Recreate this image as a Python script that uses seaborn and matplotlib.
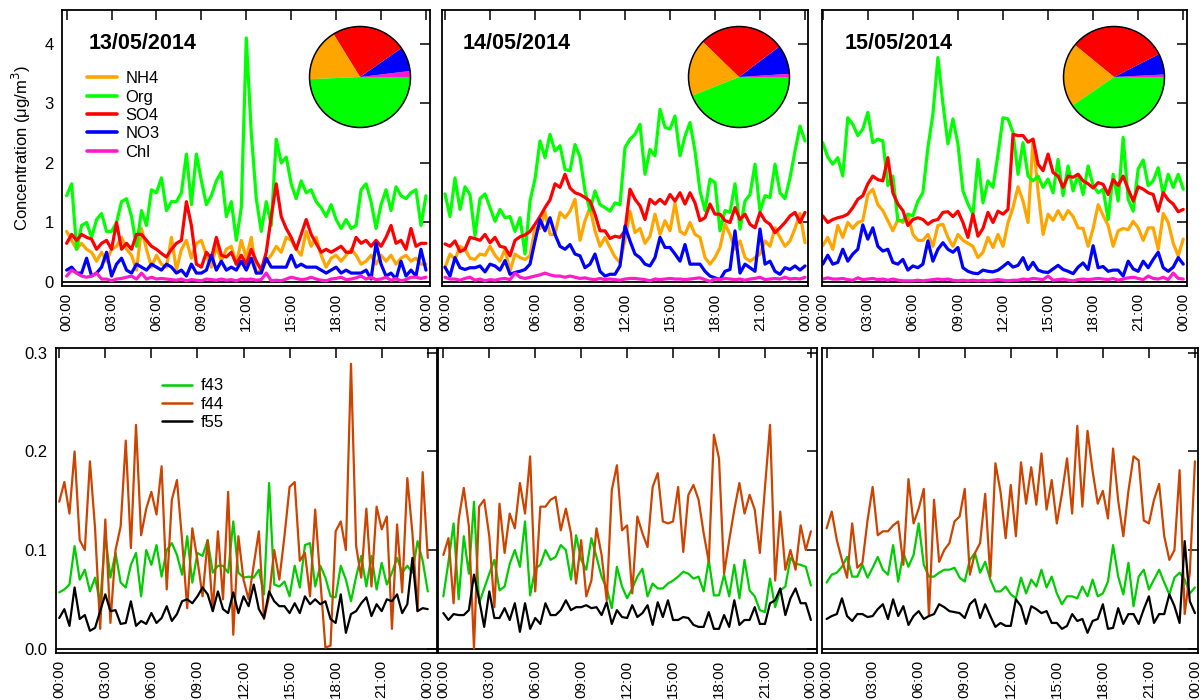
import numpy as np
import pandas as pd
import matplotlib
matplotlib.use("Agg")
import matplotlib.pyplot as plt
from matplotlib.lines import Line2D
import seaborn as sns

# 20-min averages, 00:00 -> 24:00 (73 points per day)
hours = np.arange(73) / 3.0
dates = ["13/05/2014", "14/05/2014", "15/05/2014"]
species = ["NH4", "Org", "SO4", "NO3", "Chl"]
frags = ["f43", "f44", "f55"]
time_ticks = [0, 3, 6, 9, 12, 15, 18, 21, 24]
time_labels = ["00:00", "03:00", "06:00", "09:00", "12:00", "15:00", "18:00", "21:00", "00:00"]

# ---- 13/05/2014 ----
nh4_d1 = [0.85, 0.7, 0.55, 0.65, 0.55, 0.5, 0.35, 0.5, 0.35, 0.55,
          0.6, 0.75, 0.55, 0.45, 0.2, 0.9, 0.55, 0.25, 0.45, 0.3,
          0.25, 0.75, 0.2, 0.55, 0.7, 0.4, 0.65, 0.7, 0.45, 0.25,
          0.6, 0.35, 0.55, 0.6, 0.3, 0.7, 0.4, 0.75, 0.15, 0.2,
          0.35, 0.45, 0.6, 0.5, 0.75, 0.7, 0.55, 0.45, 0.85, 0.6,
          0.75, 0.45, 0.25, 0.4, 0.45, 0.35, 0.45, 0.55, 0.45, 0.3,
          0.35, 0.45, 0.3, 0.45, 0.35, 0.45, 0.3, 0.4, 0.45, 0.35,
          0.4, 0.3, 0.3]
org_d1 = [1.45, 1.65, 0.55, 0.95, 1.0, 0.75, 1.05, 1.15, 0.85, 0.85,
          1.0, 1.35, 1.4, 1.1, 0.6, 1.2, 0.95, 1.55, 1.5, 1.75,
          1.2, 1.35, 1.35, 1.5, 2.15, 1.3, 2.15, 1.7, 1.3, 1.45,
          1.7, 1.85, 1.1, 1.35, 0.7, 1.25, 4.1, 2.5, 1.4, 0.85,
          1.35, 0.95, 2.4, 2.0, 2.1, 1.65, 1.4, 1.7, 1.5, 1.55,
          1.35, 1.25, 1.1, 1.3, 1.05, 0.9, 1.05, 0.9, 0.95, 1.55,
          1.65, 1.35, 0.9, 1.3, 1.55, 1.2, 1.6, 1.45, 1.4, 1.5,
          1.55, 0.95, 1.45]
so4_d1 = [0.65, 0.8, 0.7, 0.8, 0.75, 0.72, 0.55, 0.65, 0.7, 0.55,
          1.0, 0.55, 0.65, 0.55, 0.8, 0.8, 0.7, 0.6, 0.55, 0.48,
          0.42, 0.55, 0.65, 0.7, 1.35, 0.95, 0.3, 0.25, 0.5, 0.4,
          0.75, 0.45, 0.42, 0.5, 0.3, 0.45, 0.3, 0.55, 0.35, 0.2,
          0.5, 1.1, 1.65, 1.1, 0.9, 0.75, 0.55, 0.8, 1.05, 0.8,
          0.65, 0.5, 0.55, 0.5, 0.55, 0.6, 0.5, 0.5, 0.75, 0.65,
          0.7, 0.6, 0.7, 0.6, 0.75, 0.95, 0.65, 0.7, 0.55, 0.9,
          0.6, 0.65, 0.65]
no3_d1 = [0.2, 0.25, 0.15, 0.15, 0.4, 0.1, 0.15, 0.25, 0.5, 0.1,
          0.3, 0.4, 0.2, 0.15, 0.3, 0.25, 0.2, 0.3, 0.25, 0.2,
          0.3, 0.25, 0.15, 0.2, 0.1, 0.3, 0.15, 0.15, 0.2, 0.45,
          0.2, 0.35, 0.2, 0.25, 0.2, 0.35, 0.2, 0.4, 0.15, 0.15,
          0.4, 0.25, 0.25, 0.25, 0.25, 0.45, 0.25, 0.3, 0.25, 0.25,
          0.25, 0.2, 0.15, 0.2, 0.25, 0.15, 0.2, 0.15, 0.15, 0.15,
          0.2, 0.05, 0.65, 0.3, 0.1, 0.15, 0.05, 0.35, 0.1, 0.2,
          0.1, 0.55, 0.2]
chl_d1 = [0.1, 0.2, 0.15, 0.1, 0.08, 0.1, 0.15, 0.05, 0.05, 0.02,
          0.05, 0.06, 0.08, 0.1, 0.05, 0.15, 0.05, 0.08, 0.05, 0.06,
          0.05, 0.04, 0.03, 0.05, 0.02, 0.04, 0.03, 0.02, 0.05, 0.04,
          0.03, 0.05, 0.03, 0.04, 0.02, 0.05, 0.04, 0.05, 0.03, 0.04,
          0.15, 0.02, 0.03, 0.02, 0.05, 0.08, 0.06, 0.04, 0.05, 0.08,
          0.05, 0.03, 0.02, 0.05, 0.06, 0.08, 0.04, 0.05, 0.07, 0.1,
          0.05, 0.08, 0.04, 0.05, 0.08, 0.03, 0.06, 0.02, 0.04, 0.08,
          0.08, 0.06, 0.08]
f43_d1 = [0.057, 0.06, 0.065, 0.104, 0.07, 0.08, 0.058, 0.072, 0.046, 0.115,
          0.072, 0.097, 0.067, 0.062, 0.085, 0.097, 0.053, 0.1, 0.085, 0.105,
          0.073, 0.1, 0.107, 0.095, 0.075, 0.114, 0.067, 0.097, 0.094, 0.11,
          0.077, 0.084, 0.084, 0.077, 0.129, 0.077, 0.072, 0.073, 0.072, 0.08,
          0.055, 0.168, 0.065, 0.063, 0.068, 0.053, 0.084, 0.062, 0.105, 0.107,
          0.063, 0.084, 0.072, 0.053, 0.052, 0.084, 0.07, 0.048, 0.073, 0.094,
          0.063, 0.094, 0.06, 0.087, 0.065, 0.077, 0.092, 0.077, 0.084, 0.077,
          0.109, 0.089, 0.058]
f44_d1 = [0.149, 0.169, 0.137, 0.2, 0.11, 0.1, 0.19, 0.122, 0.02, 0.131,
          0.026, 0.1, 0.124, 0.211, 0.102, 0.227, 0.115, 0.142, 0.159, 0.136,
          0.185, 0.06, 0.151, 0.171, 0.11, 0.041, 0.122, 0.09, 0.053, 0.11,
          0.038, 0.119, 0.05, 0.159, 0.014, 0.114, 0.07, 0.05, 0.085, 0.119,
          0.03, 0.053, 0.1, 0.07, 0.114, 0.164, 0.169, 0.089, 0.097, 0.053,
          0.141, 0.07, 0.001, 0.003, 0.119, 0.129, 0.1, 0.289, 0.104, 0.072,
          0.142, 0.063, 0.144, 0.121, 0.134, 0.02, 0.126, 0.057, 0.173, 0.117,
          0.038, 0.179, 0.092]
f55_d1 = [0.031, 0.04, 0.023, 0.062, 0.03, 0.034, 0.018, 0.021, 0.038, 0.055,
          0.038, 0.039, 0.025, 0.026, 0.048, 0.023, 0.028, 0.025, 0.036, 0.026,
          0.031, 0.043, 0.028, 0.035, 0.048, 0.05, 0.046, 0.053, 0.062, 0.055,
          0.038, 0.058, 0.04, 0.036, 0.057, 0.036, 0.053, 0.043, 0.065, 0.04,
          0.031, 0.058, 0.048, 0.043, 0.043, 0.036, 0.046, 0.036, 0.053, 0.045,
          0.05, 0.045, 0.048, 0.03, 0.026, 0.055, 0.016, 0.035, 0.038, 0.046,
          0.052, 0.033, 0.045, 0.038, 0.05, 0.048, 0.055, 0.036, 0.045, 0.092,
          0.038, 0.041, 0.04]

# ---- 14/05/2014 ----
nh4_d2 = [0.24, 0.47, 0.38, 0.6, 0.55, 0.4, 0.38, 0.47, 0.45, 0.6,
          0.45, 0.35, 0.55, 0.18, 0.47, 0.41, 0.38, 0.44, 0.91, 0.9,
          1.17, 0.8, 0.8, 1.17, 1.08, 1.19, 1.39, 0.7, 1.03, 1.25,
          0.86, 0.6, 0.75, 0.58, 0.42, 0.33, 0.7, 1.19, 0.83, 0.9,
          0.65, 0.77, 1.14, 0.8, 1.03, 0.86, 1.33, 0.85, 0.8, 1.0,
          0.8, 0.75, 0.41, 0.3, 0.41, 0.58, 0.97, 0.8, 0.55, 0.69,
          0.41, 0.35, 0.41, 0.47, 0.69, 0.6, 0.91, 0.75, 0.6, 0.69,
          0.9, 1.15, 0.66]
org_d2 = [1.48, 1.1, 1.75, 1.22, 1.6, 1.47, 0.78, 1.4, 1.48, 1.25,
          1.02, 1.22, 1.08, 1.1, 0.85, 1.08, 0.47, 1.36, 1.73, 2.37,
          2.09, 2.48, 2.2, 2.29, 1.89, 1.87, 2.31, 2.1, 1.53, 1.2,
          1.53, 1.3, 1.25, 1.19, 1.33, 1.3, 2.26, 2.4, 2.48, 2.65,
          1.81, 2.23, 2.12, 2.9, 2.6, 2.57, 2.79, 2.12, 2.45, 2.68,
          2.2, 1.53, 1.2, 1.73, 1.67, 0.86, 1.2, 1.17, 1.65, 0.89,
          1.36, 1.47, 1.98, 1.19, 1.45, 1.42, 1.98, 1.5, 1.4, 1.75,
          2.2, 2.62, 2.37]
so4_d2 = [0.64, 0.6, 0.69, 0.51, 0.55, 0.75, 0.73, 0.7, 0.8, 0.66,
          0.75, 0.6, 0.58, 0.44, 0.7, 0.76, 0.79, 0.85, 0.97, 1.1,
          1.25, 1.38, 1.65, 1.59, 1.81, 1.58, 1.5, 1.47, 1.42, 1.36,
          1.14, 0.86, 0.86, 0.73, 0.77, 0.75, 0.86, 1.56, 1.39, 1.28,
          1.05, 1.39, 1.31, 1.39, 1.31, 1.47, 1.36, 1.5, 1.31, 1.5,
          1.33, 1.03, 1.08, 1.31, 1.14, 1.14, 1.03, 1.0, 1.25, 1.05,
          1.14, 0.97, 0.91, 1.17, 1.03, 0.97, 0.83, 0.91, 1.0, 1.11,
          1.17, 1.0, 1.17]
no3_d2 = [0.25, 0.1, 0.41, 0.24, 0.21, 0.24, 0.24, 0.27, 0.17, 0.3,
          0.27, 0.2, 0.36, 0.13, 0.16, 0.18, 0.21, 0.3, 0.69, 1.05,
          0.86, 1.08, 0.8, 0.6, 0.55, 0.63, 0.47, 0.44, 0.24, 0.3,
          0.47, 0.18, 0.1, 0.13, 0.13, 0.27, 0.94, 0.69, 0.47, 0.41,
          0.3, 0.27, 0.41, 0.75, 0.58, 0.58, 0.47, 0.35, 0.63, 0.3,
          0.3, 0.3, 0.18, 0.1, 0.07, 0.04, 0.18, 0.21, 0.86, 0.15,
          0.3, 0.24, 0.18, 0.89, 0.3, 0.35, 0.18, 0.13, 0.24, 0.21,
          0.27, 0.2, 0.27]
chl_d2 = [0.08, 0.05, 0.05, 0.03, 0.06, 0.08, 0.03, 0.05, 0.02, 0.04,
          0.03, 0.05, 0.06, 0.04, 0.15, 0.08, 0.06, 0.08, 0.1, 0.12,
          0.15, 0.12, 0.1, 0.1, 0.08, 0.1, 0.08, 0.06, 0.07, 0.05,
          0.04, 0.06, 0.04, 0.05, 0.04, 0.03, 0.05, 0.06, 0.06, 0.05,
          0.04, 0.02, 0.05, 0.04, 0.05, 0.06, 0.05, 0.05, 0.04, 0.05,
          0.06, 0.07, 0.04, 0.01, 0.05, 0.04, 0.06, 0.05, 0.04, 0.05,
          0.03, 0.05, 0.06, 0.08, 0.04, 0.05, 0.06, 0.05, 0.08, 0.05,
          0.06, 0.05, 0.08]
f43_d2 = [0.053, 0.088, 0.127, 0.05, 0.114, 0.076, 0.149, 0.046, 0.061, 0.076,
          0.09, 0.059, 0.063, 0.086, 0.1, 0.083, 0.129, 0.054, 0.081, 0.085,
          0.1, 0.09, 0.093, 0.105, 0.1, 0.07, 0.115, 0.09, 0.08, 0.112,
          0.093, 0.073, 0.061, 0.041, 0.083, 0.063, 0.051, 0.061, 0.073, 0.081,
          0.053, 0.066, 0.061, 0.061, 0.066, 0.069, 0.073, 0.078, 0.076, 0.071,
          0.073, 0.058, 0.09, 0.054, 0.054, 0.075, 0.053, 0.085, 0.051, 0.09,
          0.059, 0.053, 0.039, 0.037, 0.071, 0.042, 0.059, 0.063, 0.092, 0.086,
          0.085, 0.083, 0.064]
f44_d2 = [0.095, 0.112, 0.046, 0.131, 0.163, 0.124, 0.0, 0.144, 0.151, 0.114,
          0.042, 0.147, 0.097, 0.137, 0.122, 0.168, 0.137, 0.195, 0.058, 0.144,
          0.144, 0.151, 0.154, 0.12, 0.142, 0.117, 0.066, 0.11, 0.053, 0.069,
          0.122, 0.095, 0.049, 0.161, 0.186, 0.12, 0.125, 0.056, 0.134, 0.117,
          0.103, 0.164, 0.178, 0.129, 0.127, 0.129, 0.164, 0.098, 0.156, 0.166,
          0.151, 0.117, 0.088, 0.217, 0.193, 0.076, 0.11, 0.141, 0.168, 0.137,
          0.156, 0.141, 0.097, 0.163, 0.227, 0.069, 0.139, 0.08, 0.1, 0.08,
          0.125, 0.1, 0.119]
f55_d2 = [0.036, 0.029, 0.035, 0.034, 0.034, 0.039, 0.075, 0.05, 0.022, 0.058,
          0.031, 0.031, 0.041, 0.029, 0.046, 0.017, 0.046, 0.02, 0.031, 0.025,
          0.046, 0.034, 0.034, 0.039, 0.049, 0.039, 0.042, 0.042, 0.044, 0.041,
          0.042, 0.034, 0.047, 0.025, 0.039, 0.032, 0.031, 0.044, 0.032, 0.036,
          0.044, 0.024, 0.047, 0.032, 0.049, 0.029, 0.029, 0.032, 0.031, 0.024,
          0.022, 0.022, 0.037, 0.02, 0.02, 0.034, 0.022, 0.049, 0.024, 0.029,
          0.029, 0.042, 0.025, 0.025, 0.046, 0.049, 0.061, 0.034, 0.051, 0.061,
          0.046, 0.046, 0.029]

# ---- 15/05/2014 ----
nh4_d3 = [0.61, 0.75, 0.55, 0.95, 0.75, 1.0, 0.9, 1.0, 1.03, 1.47,
          1.56, 1.3, 1.2, 1.03, 0.86, 1.05, 1.0, 1.14, 0.8, 0.7,
          0.7, 0.8, 0.6, 0.95, 0.97, 0.75, 0.6, 0.8, 0.7, 0.65,
          0.6, 0.41, 0.5, 0.75, 0.58, 0.8, 0.6, 1.0, 1.25, 1.6,
          1.36, 1.0, 2.4, 1.53, 0.8, 1.14, 1.03, 1.2, 1.05, 1.2,
          1.1, 0.91, 0.9, 0.6, 0.9, 1.3, 1.12, 0.95, 0.6, 0.86,
          0.9, 0.88, 1.02, 0.91, 0.7, 0.91, 0.91, 0.55, 1.15, 1.0,
          0.65, 0.44, 0.72]
org_d3 = [2.34, 2.1, 1.98, 2.09, 1.78, 2.76, 2.65, 2.46, 2.57, 2.85,
          2.34, 2.4, 2.37, 1.62, 1.78, 1.03, 1.03, 1.14, 1.11, 1.36,
          1.5, 2.26, 2.82, 3.77, 3.0, 2.32, 2.74, 2.32, 1.53, 1.31,
          1.14, 2.06, 1.33, 1.7, 1.59, 2.15, 2.76, 2.74, 2.51, 1.81,
          2.34, 1.78, 1.7, 1.78, 1.59, 1.73, 1.5, 2.06, 1.45, 1.95,
          1.53, 1.81, 1.47, 1.95, 1.62, 1.5, 1.56, 1.05, 1.81, 1.36,
          2.43, 1.39, 1.19, 1.9, 2.05, 1.62, 1.7, 1.92, 1.47, 1.81,
          1.59, 1.81, 1.56]
so4_d3 = [1.11, 1.0, 1.05, 1.08, 1.1, 1.14, 1.25, 1.39, 1.45, 1.65,
          1.78, 1.72, 1.7, 2.09, 1.5, 1.31, 1.2, 0.95, 1.05, 1.08,
          1.05, 0.97, 1.03, 1.05, 1.17, 1.18, 1.1, 1.19, 1.0, 0.75,
          1.14, 0.77, 0.9, 1.17, 1.0, 1.19, 1.14, 1.22, 2.48, 2.46,
          2.46, 2.35, 2.4, 1.98, 1.87, 2.15, 1.84, 1.78, 1.59, 1.78,
          1.76, 1.81, 1.7, 1.65, 1.58, 1.67, 1.64, 1.47, 1.72, 1.62,
          1.78, 1.56, 1.36, 1.6, 1.56, 1.5, 1.47, 1.19, 1.5, 1.38,
          1.31, 1.18, 1.22]
no3_d3 = [0.3, 0.45, 0.3, 0.33, 0.55, 0.35, 0.47, 0.55, 0.96, 0.72,
          0.91, 0.6, 0.52, 0.55, 0.33, 0.3, 0.38, 0.2, 0.27, 0.24,
          0.3, 0.69, 0.35, 0.55, 0.66, 0.55, 0.5, 0.58, 0.24, 0.18,
          0.15, 0.14, 0.2, 0.18, 0.17, 0.2, 0.26, 0.33, 0.25, 0.28,
          0.41, 0.21, 0.33, 0.2, 0.17, 0.16, 0.22, 0.28, 0.21, 0.18,
          0.14, 0.25, 0.32, 0.21, 0.61, 0.24, 0.26, 0.18, 0.2, 0.2,
          0.1, 0.35, 0.22, 0.18, 0.35, 0.24, 0.38, 0.5, 0.24, 0.18,
          0.25, 0.41, 0.3]
chl_d3 = [0.05, 0.07, 0.05, 0.05, 0.06, 0.04, 0.03, 0.07, 0.04, 0.05,
          0.06, 0.04, 0.05, 0.03, 0.05, 0.03, 0.02, 0.02, 0.02, 0.03,
          0.02, 0.03, 0.04, 0.05, 0.04, 0.05, 0.03, 0.02, 0.03, 0.02,
          0.03, 0.02, 0.03, 0.02, 0.03, 0.04, 0.03, 0.02, 0.03, 0.03,
          0.05, 0.04, 0.06, 0.05, 0.04, 0.1, 0.03, 0.04, 0.05, 0.03,
          0.02, 0.04, 0.05, 0.04, 0.05, 0.06, 0.05, 0.04, 0.06, 0.03,
          0.05, 0.07, 0.08, 0.06, 0.04, 0.1, 0.06, 0.05, 0.08, 0.04,
          0.15, 0.06, 0.05]
f43_d3 = [0.067, 0.075, 0.077, 0.083, 0.093, 0.073, 0.073, 0.085, 0.072, 0.082,
          0.093, 0.08, 0.075, 0.105, 0.068, 0.097, 0.083, 0.095, 0.127, 0.085,
          0.073, 0.073, 0.077, 0.08, 0.08, 0.082, 0.072, 0.068, 0.09, 0.097,
          0.077, 0.088, 0.07, 0.058, 0.058, 0.063, 0.055, 0.051, 0.072, 0.056,
          0.07, 0.063, 0.08, 0.062, 0.073, 0.056, 0.045, 0.053, 0.053, 0.051,
          0.063, 0.053, 0.07, 0.053, 0.056, 0.068, 0.105, 0.073, 0.055, 0.087,
          0.043, 0.073, 0.08, 0.06, 0.07, 0.08, 0.067, 0.055, 0.072, 0.077,
          0.07, 0.056, 0.062]
f44_d3 = [0.122, 0.139, 0.11, 0.09, 0.072, 0.127, 0.082, 0.087, 0.13, 0.164,
          0.115, 0.119, 0.119, 0.125, 0.129, 0.085, 0.172, 0.127, 0.142, 0.162,
          0.033, 0.151, 0.088, 0.1, 0.107, 0.129, 0.134, 0.162, 0.075, 0.097,
          0.107, 0.157, 0.073, 0.188, 0.159, 0.112, 0.166, 0.114, 0.189, 0.147,
          0.184, 0.146, 0.198, 0.141, 0.171, 0.127, 0.157, 0.193, 0.137, 0.226,
          0.144, 0.221, 0.18, 0.147, 0.16, 0.132, 0.203, 0.15, 0.114, 0.16,
          0.195, 0.191, 0.13, 0.127, 0.151, 0.167, 0.114, 0.09, 0.1, 0.181,
          0.035, 0.077, 0.19]
f55_d3 = [0.03, 0.033, 0.035, 0.051, 0.033, 0.028, 0.035, 0.035, 0.032, 0.033,
          0.04, 0.045, 0.03, 0.05, 0.033, 0.043, 0.024, 0.033, 0.038, 0.03,
          0.033, 0.035, 0.045, 0.042, 0.038, 0.037, 0.036, 0.031, 0.045, 0.05,
          0.031, 0.045, 0.033, 0.022, 0.026, 0.023, 0.023, 0.05, 0.043, 0.025,
          0.043, 0.04, 0.036, 0.038, 0.026, 0.026, 0.02, 0.023, 0.035, 0.028,
          0.03, 0.016, 0.028, 0.03, 0.045, 0.02, 0.021, 0.041, 0.025, 0.035,
          0.035, 0.025, 0.04, 0.053, 0.026, 0.035, 0.035, 0.055, 0.043, 0.026,
          0.109, 0.048, 0.036]

# daily mean composition (%), order NH4, Org, SO4, NO3, Chl
pie_d1 = [16.9, 49.3, 24.1, 7.8, 1.9]
pie_d2 = [18.3, 43.9, 27.4, 9.3, 1.0]
pie_d3 = [20.5, 40.4, 31.6, 6.7, 0.8]

spec_colors = {"NH4": "#FFA500", "Org": "#00FF00", "SO4": "#FF0000",
               "NO3": "#0000FF", "Chl": "#FF1ACC"}
frag_colors = {"f43": "#00CC00", "f44": "#CC4400", "f55": "#000000"}

days = [
    (dates[0], [nh4_d1, org_d1, so4_d1, no3_d1, chl_d1], [f43_d1, f44_d1, f55_d1], pie_d1),
    (dates[1], [nh4_d2, org_d2, so4_d2, no3_d2, chl_d2], [f43_d2, f44_d2, f55_d2], pie_d2),
    (dates[2], [nh4_d3, org_d3, so4_d3, no3_d3, chl_d3], [f43_d3, f44_d3, f55_d3], pie_d3),
]

sns.set_style("white")
plt.rcParams["font.family"] = ["Liberation Sans", "DejaVu Sans"]
plt.rcParams["axes.linewidth"] = 1.3
for key in ["text.color", "axes.labelcolor", "xtick.color", "ytick.color", "axes.edgecolor"]:
    plt.rcParams[key] = "black"

W, H = 1202, 700
fig = plt.figure(figsize=(W / 100, H / 100), dpi=100)

# axes boxes in pixels: left, right, top, bottom
top_box = [(62, 430, 10, 286), (442, 808, 10, 286), (822, 1187, 10, 286)]
bot_box = [(56, 437, 348, 653), (438, 817, 348, 653), (822, 1198, 348, 653)]
top_xlim = [(-0.31, 24.27), (-0.2, 24.2), (-0.05, 24.25)]
bot_xlim = [(-0.21, 24.6), (-0.35, 24.4), (-0.3, 24.2)]
pie_center = [(360, 77), (739, 77), (1114, 77)]
date_x = [0.071, 0.057, 0.063]
pie_r = 52


def add_ax(box):
    l, r, t, b = box
    return fig.add_axes([l / W, 1 - b / H, (r - l) / W, (b - t) / H])


def style_ax(ax, xlim):
    ax.set_xlim(*xlim)
    ax.set_xticks(time_ticks)
    ax.set_xticklabels(time_labels, rotation=90)
    ax.tick_params(direction="in", top=True, right=True, length=7, width=1.1,
                   colors="black")
    ax.tick_params(axis="x", pad=5, labelsize=11)
    ax.tick_params(axis="y", pad=6, labelsize=12)
    ax.set_xlabel("")
    ax.set_ylabel("")
    for s in ax.spines.values():
        s.set_color("black")
        s.set_linewidth(1.3)


for k, (date, spec_vals, frag_vals, pie_vals) in enumerate(days):
    # ---- mass concentrations ----
    ax = add_ax(top_box[k])
    df = pd.DataFrame({"hour": hours})
    for name, vals in zip(species, spec_vals):
        df[name] = vals
    df = df.melt(id_vars="hour", var_name="species", value_name="conc")
    sns.lineplot(data=df, x="hour", y="conc", hue="species", hue_order=species,
                 palette=spec_colors, linewidth=2.3, estimator=None,
                 legend=False, ax=ax)
    ax.axhline(0, color="black", lw=1.3, zorder=1)
    style_ax(ax, top_xlim[k])
    ax.set_ylim(-0.067, 4.57)
    ax.set_yticks([0, 1, 2, 3, 4])
    if k == 0:
        ax.set_ylabel("Concentration (μg/m$^{3}$)", fontsize=12, labelpad=8)
        handles = [Line2D([], [], color=spec_colors[s], lw=2.6) for s in species]
        ax.legend(handles, species, loc="upper left", bbox_to_anchor=(0.068, 0.778),
                  frameon=False, fontsize=12, handlelength=1.8, handletextpad=0.5,
                  labelspacing=0.2, borderpad=0, borderaxespad=0)
    else:
        ax.tick_params(axis="y", labelleft=False)
    ax.text(date_x[k], 0.88, date, transform=ax.transAxes, fontsize=15.5,
            fontweight="bold", va="center", ha="left")

    # inset pie: counter-clockwise from 3 o'clock -> Chl, NO3, SO4, NH4, Org
    cx, cy = pie_center[k]
    pax = fig.add_axes([(cx - pie_r) / W, 1 - (cy + pie_r) / H, 2 * pie_r / W, 2 * pie_r / H])
    order = [4, 3, 2, 0, 1]
    pax.pie([pie_vals[i] for i in order], colors=[spec_colors[species[i]] for i in order],
            startangle=0, counterclock=True, wedgeprops=dict(linewidth=0))
    pax.add_patch(plt.Circle((0, 0), 1, fill=False, ec="black", lw=1.1))
    pax.set_xlim(-1.03, 1.03)
    pax.set_ylim(-1.03, 1.03)
    pax.set_aspect("equal")
    pax.axis("off")

    # ---- fragment fractions ----
    bx = add_ax(bot_box[k])
    fdf = pd.DataFrame({"hour": hours})
    for name, vals in zip(frags, frag_vals):
        fdf[name] = vals
    fdf = fdf.melt(id_vars="hour", var_name="frag", value_name="frac")
    sns.lineplot(data=fdf, x="hour", y="frac", hue="frag", hue_order=frags,
                 palette=frag_colors, linewidth=1.6, estimator=None,
                 legend=False, ax=bx)
    bx.axhline(0, color="black", lw=1.3, zorder=1)
    style_ax(bx, bot_xlim[k])
    bx.set_ylim(-0.0045, 0.305)
    bx.set_yticks([0.0, 0.1, 0.2, 0.3])
    if k == 0:
        bx.set_yticklabels(["0.0", "0.1", "0.2", "0.3"])
        handles = [Line2D([], [], color=frag_colors[f], lw=1.8) for f in frags]
        bx.legend(handles, frags, loc="upper left", bbox_to_anchor=(0.278, 0.9),
                  frameon=False, fontsize=12, handlelength=1.8, handletextpad=0.5,
                  labelspacing=0.2, borderpad=0, borderaxespad=0)
    else:
        bx.tick_params(axis="y", labelleft=False)

fig.savefig("out.png", dpi=100)
